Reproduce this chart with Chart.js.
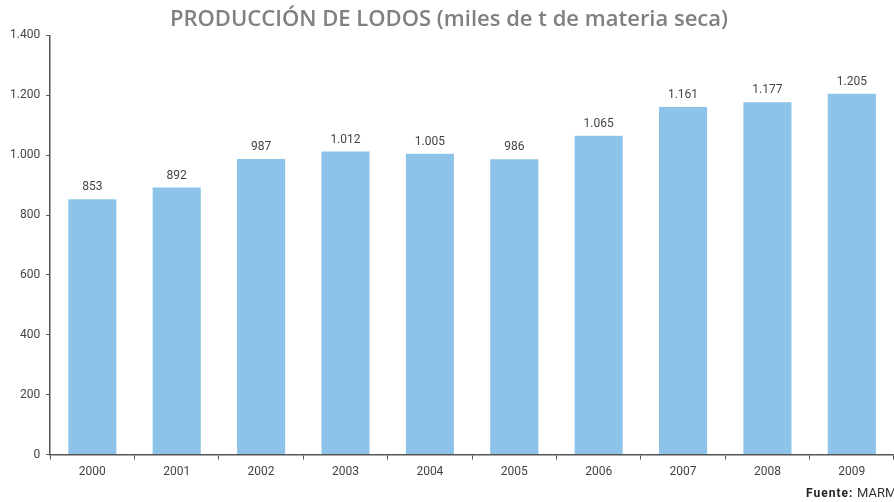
<!DOCTYPE html>
<html>
<head>
<meta charset="utf-8">
<script src="https://cdn.jsdelivr.net/npm/chart.js@4.4.0/dist/chart.umd.min.js"></script>
<style>
  html, body { margin: 0; padding: 0; background: #fff; }
  #wrap { width: 894px; height: 502px; position: relative; }
</style>
</head>
<body>
<div id="wrap"><canvas id="lodosChart"></canvas></div>
<script>
// --- DATA ---
const years = ['2000', '2001', '2002', '2003', '2004', '2005', '2006', '2007', '2008', '2009'];
const lodos = [853, 892, 987, 1012, 1005, 986, 1065, 1161, 1177, 1205];
const yTicks = [0, 200, 400, 600, 800, 1000, 1200, 1400];

const FONT = 'Roboto, "DejaVu Sans", sans-serif';

// thousands separator with a dot (es-ES doesn't group 4 digits)
function fmt(v) {
    return String(v).replace(/\B(?=(\d{3})+(?!\d))/g, '.');
}

// value labels on top of bars
const barLabels = {
    id: 'barLabels',
    afterDatasetsDraw(chart) {
        const ctx = chart.ctx;
        const meta = chart.getDatasetMeta(0);
        ctx.save();
        ctx.font = '12px ' + FONT;
        ctx.fillStyle = '#444';
        ctx.textAlign = 'center';
        ctx.textBaseline = 'bottom';
        meta.data.forEach((bar, i) => {
            ctx.fillText(fmt(lodos[i]), bar.x, bar.y - 6);
        });
        ctx.restore();
    }
};

// source note bottom right (cut off by the edge, like the original)
const fuente = {
    id: 'fuente',
    afterDraw(chart) {
        const ctx = chart.ctx;
        ctx.save();
        ctx.textBaseline = 'alphabetic';
        ctx.textAlign = 'left';
        ctx.fillStyle = '#222';
        ctx.font = 'bold 12px ' + FONT;
        ctx.letterSpacing = '1px';
        ctx.fillText('Fuente:', 806, 497);
        ctx.letterSpacing = '0px';
        ctx.font = '13px ' + FONT;
        ctx.fillStyle = '#333';
        ctx.fillText('MARM', 857, 497);
        ctx.restore();
    }
};

new Chart(document.getElementById('lodosChart'), {
    type: 'bar',
    data: {
        labels: years,
        datasets: [{
            data: lodos,
            backgroundColor: '#8DC3E8',
            categoryPercentage: 1,
            barPercentage: 0.57
        }]
    },
    options: {
        responsive: true,
        maintainAspectRatio: false,
        animation: false,
        layout: { padding: { left: 4, right: 0, top: 0, bottom: 18 } },
        plugins: {
            legend: { display: false },
            tooltip: { enabled: false },
            title: {
                display: true,
                text: 'PRODUCCIÓN DE LODOS (miles de t de materia seca)',
                color: '#808080',
                font: { family: '"Open Sans", Roboto, sans-serif', size: 22, weight: '600' },
                padding: { top: 7, bottom: 2 }
            }
        },
        scales: {
            x: {
                grid: { drawOnChartArea: false, offset: true, color: '#555', tickLength: 5 },
                border: { color: '#555', width: 1.5 },
                ticks: { color: '#444', font: { family: FONT, size: 12 }, padding: 5 }
            },
            y: {
                min: 0,
                max: 1400,
                afterBuildTicks: axis => { axis.ticks = yTicks.map(v => ({ value: v })); },
                grid: { drawOnChartArea: false, color: '#555', tickLength: 4 },
                border: { color: '#555', width: 1.5 },
                ticks: {
                    color: '#444',
                    font: { family: FONT, size: 12 },
                    padding: 6,
                    callback: v => fmt(v)
                }
            }
        }
    },
    plugins: [barLabels, fuente]
});
</script>
</body>
</html>
